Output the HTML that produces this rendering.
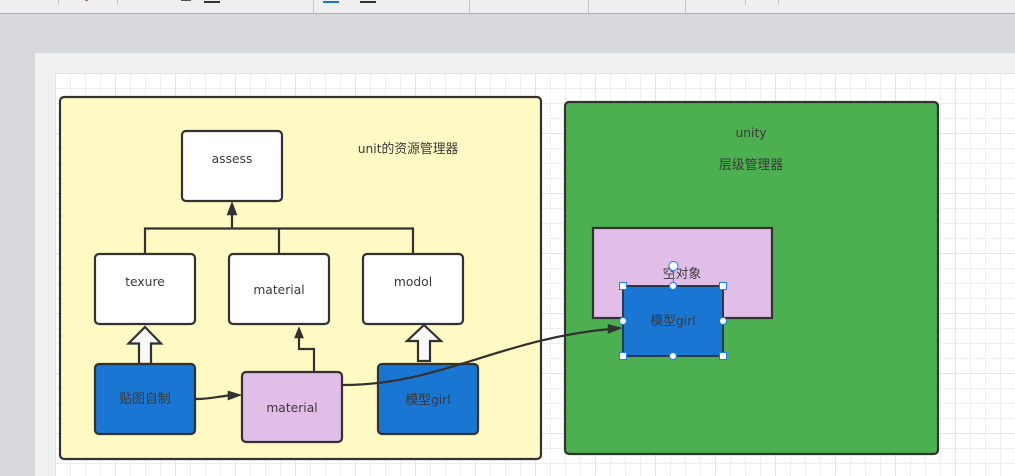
<!DOCTYPE html>
<html><head><meta charset="utf-8"><style>
html,body{margin:0;padding:0;width:1015px;height:476px;overflow:hidden;background:#d9dadf}
svg{display:block}
text{font-family:"DejaVu Sans","Noto Sans CJK SC",sans-serif;font-size:12.3px;fill:#3a3a3a;text-anchor:middle}
tspan.c{font-family:"Noto Sans CJK SC",sans-serif;font-size:12.8px}
</style></head><body>
<svg width="1015" height="476" viewBox="0 0 1015 476" xmlns="http://www.w3.org/2000/svg">
<defs>
<pattern id="g" x="55" y="73" width="60" height="60" patternUnits="userSpaceOnUse">
<rect width="60" height="60" fill="#fff"/>
<path d="M15.5 0V60M30.5 0V60M45.5 0V60M0 15.5H60M0 30.5H60M0 45.5H60" stroke="#eeeeee" fill="none"/>
<path d="M.5 0V60M0 .5H60" stroke="#e3e3e3" fill="none"/>
</pattern>
</defs>
<rect width="1015" height="476" fill="#d8d9de"/>
<rect width="1015" height="13" fill="#efefef"/>
<rect y="13" width="1015" height="1" fill="#b0b0b0"/>
<path d="M58.5 0V5M117.5 0V5M313.5 0V13M469.5 0V13M588.5 0V13M685.5 0V13M745.5 0V5M778.5 0V5" stroke="#c8c8c8"/>
<rect x="204" y="1" width="16" height="2" fill="#333"/>
<rect x="323" y="1" width="16" height="2" fill="#1a76d2"/>
<rect x="360" y="1" width="16" height="2" fill="#333"/>
<rect x="181" y="0" width="10" height="1" fill="#555"/>
<rect x="85" y="0" width="3" height="1" fill="#b66"/>
<rect x="35" y="53" width="980" height="423" fill="#f1f1f1"/>
<rect x="55" y="73" width="960" height="403" fill="url(#g)"/>

<rect x="60" y="97" width="481" height="362" rx="4" fill="#fff9c4" stroke="#323232" stroke-width="2.200"/>
<rect x="565" y="102" width="373" height="352" rx="4" fill="#4caf50" stroke="#323232" stroke-width="2.200"/>

<g fill="none" stroke="#323232" stroke-width="2.200">
<path d="M145 254V228.500H413V254M279 254V228.500M232 228.500V212"/>
<path d="M314 372V349H299V337"/>
<path d="M196 399C210 399 215 397 229 395.500"/>
</g>
<g fill="#323232" stroke="#323232" stroke-width=".6" stroke-linejoin="round">
<path d="M232 202L237 215H227Z"/>
<path d="M299 327L303.500 338H294.500Z"/>
<path d="M241.500 395L228 391V400Z"/>
</g>

<g stroke="#323232" stroke-width="2.200" fill="#fff">
<rect x="182" y="131" width="100" height="70" rx="4"/>
<rect x="95" y="254" width="100" height="70" rx="4"/>
<rect x="229" y="254" width="100" height="70" rx="4"/>
<rect x="363" y="254" width="100" height="70" rx="4"/>
<path d="M145 327L161 343.500H151V364H139V343.500H128.500Z" fill="#f8f8f8"/>
<path d="M424 325L441 341H430V361H418V341H407Z" fill="#f8f8f8"/>
<rect x="95" y="364" width="100" height="70" rx="4" fill="#1976d2"/>
<rect x="378" y="364" width="100" height="70" rx="4" fill="#1976d2"/>
<rect x="242" y="372" width="100" height="70" rx="4" fill="#e1bee7"/>
<rect x="593" y="228" width="179" height="90" fill="#e1bee7"/>
</g>
<path d="M343 385C440 385 500 339 610 329" fill="none" stroke="#323232" stroke-width="2.200"/>
<path d="M622 328L608 324.500V333.500Z" fill="#323232" stroke="#323232" stroke-width=".6" stroke-linejoin="round"/>

<text x="232" y="163">assess</text>
<text x="145" y="286">texure</text>
<text x="279" y="294">material</text>
<text x="413" y="286">modol</text>
<text x="145" y="403"><tspan class="c">贴图自制</tspan></text>
<text x="292" y="412">material</text>
<text x="428" y="404"><tspan class="c">模型</tspan>girl</text>
<text x="408" y="153">unit<tspan class="c">的资源管理器</tspan></text>
<text x="751" y="137">unity</text>
<text x="751" y="169"><tspan class="c">层级管理器</tspan></text>
<text x="682" y="278"><tspan class="c">空对象</tspan></text>

<rect x="623" y="286" width="100" height="70" fill="#1976d2" stroke="#2a3a4a" stroke-width="2"/>
<text x="673" y="325"><tspan class="c">模型</tspan>girl</text>
<path d="M673.500 267V286" stroke="#1a7fe8" stroke-width="1"/>
<g fill="#fff" stroke="#1a7fe8" stroke-width="1">
<circle cx="673.500" cy="266" r="4.500"/>
<rect x="619.500" y="282.500" width="7" height="7"/>
<rect x="719.500" y="282.500" width="7" height="7"/>
<rect x="619.500" y="352.500" width="7" height="7"/>
<rect x="719.500" y="352.500" width="7" height="7"/>
<circle cx="673" cy="286" r="3.500"/>
<circle cx="673" cy="356" r="3.500"/>
<circle cx="623" cy="321" r="3.500"/>
<circle cx="723" cy="321" r="3.500"/>
</g>
</svg>
</body></html>
